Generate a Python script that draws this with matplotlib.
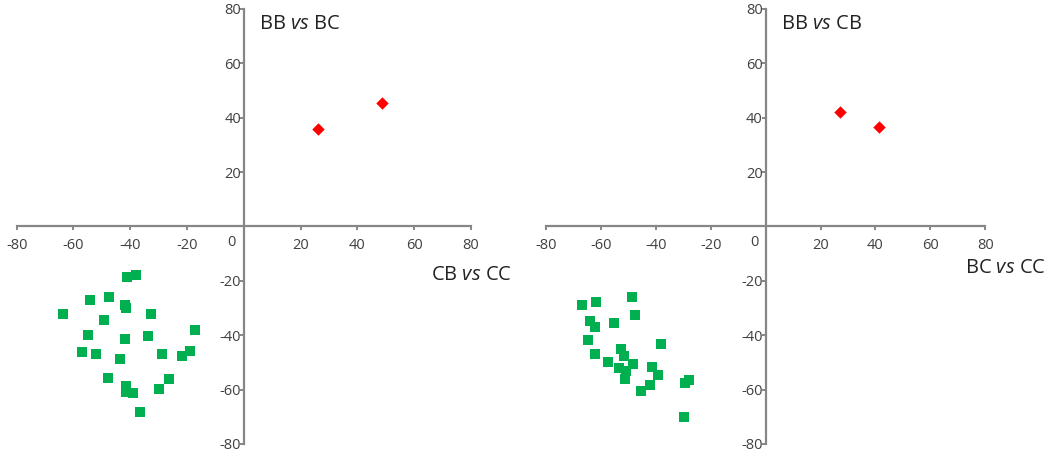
import matplotlib.pyplot as plt

plt.rcParams['font.family'] = ['Open Sans', 'DejaVu Sans']
plt.rcParams['mathtext.fontset'] = 'custom'
plt.rcParams['mathtext.rm'] = 'Open Sans'
plt.rcParams['mathtext.it'] = 'Open Sans:italic'

# left panel: CB vs CC (x) / BB vs BC (y)
red1_x = [26.3, 48.5]
red1_y = [35.8, 45.6]
green1_x = [-38.1, -41.3, -54.1, -47.5, -42.0, -41.6, -63.7, -49.3, -32.7, -17.2,
            -54.8, -42.0, -33.8, -57.0, -52.1, -43.5, -28.7, -21.8, -19.1, -47.9,
            -26.4, -41.4, -41.6, -39.1, -29.7, -36.7]
green1_y = [-17.7, -18.6, -27.1, -25.9, -28.7, -29.9, -32.1, -34.5, -32.1, -38.1,
            -39.8, -41.5, -40.4, -46.0, -46.9, -48.7, -46.9, -47.6, -45.8, -55.9,
            -56.2, -58.5, -61.0, -61.4, -59.9, -68.2]

# right panel: BC vs CC (x) / BB vs CB (y)
red2_x = [27.1, 41.3]
red2_y = [42.1, 36.5]
green2_x = [-67.0, -61.6, -48.6, -47.6, -63.8, -62.3, -55.1, -64.8, -38.2, -62.2,
            -57.4, -52.6, -51.7, -48.4, -53.3, -51.0, -51.2, -41.2, -39.3, -42.2,
            -45.3, -29.4, -28.0, -29.9]
green2_y = [-28.7, -27.7, -25.9, -32.4, -34.8, -36.8, -35.6, -41.8, -43.3, -47.0,
            -49.9, -44.9, -47.8, -50.4, -51.9, -53.3, -56.0, -51.5, -54.6, -58.2,
            -60.4, -57.6, -56.4, -70.2]

ticks = [-80, -60, -40, -20, 0, 20, 40, 60, 80]
tick_labels = ['' if t == 0 else str(t) for t in ticks]

axis_col = '#868686'
text_col = '#404040'

fig = plt.figure(figsize=(10.55, 4.59), dpi=100)
ax1 = fig.add_axes([0.0158, 0.0327, 0.4306, 0.9477])
ax2 = fig.add_axes([0.5175, 0.0327, 0.4164, 0.9477])

panels = [
    (ax1, red1_x, red1_y, green1_x, green1_y, 'BB $\\mathit{vs}$ BC', 'CB $\\mathit{vs}$ CC', (66, -17.8)),
    (ax2, red2_x, red2_y, green2_x, green2_y, 'BB $\\mathit{vs}$ CB', 'BC $\\mathit{vs}$ CC', (72.6, -15.4)),
]

for ax, rx, ry, gx, gy, ytitle, xtitle, xpos in panels:
    ax.scatter(gx, gy, marker='s', s=55, color='#00B050', zorder=3, linewidths=0)
    ax.scatter(rx, ry, marker='D', s=40, color='#FF0000', zorder=3, linewidths=0)
    ax.set_xlim(-80, 80)
    ax.set_ylim(-80, 80)
    for side in ['top', 'right']:
        ax.spines[side].set_visible(False)
    for side in ['left', 'bottom']:
        ax.spines[side].set_position('zero')
        ax.spines[side].set_color(axis_col)
        ax.spines[side].set_linewidth(1.6)
    ax.set_xticks(ticks)
    ax.set_xticklabels(tick_labels)
    ax.set_yticks(ticks)
    ax.set_yticklabels(tick_labels)
    ax.tick_params(axis='x', direction='out', length=3, width=1.4, color=axis_col,
                   labelcolor=text_col, labelsize=10.5, pad=5)
    ax.tick_params(axis='y', direction='out', length=3, width=1.4, color=axis_col,
                   labelcolor=text_col, labelsize=10.5, pad=-1)
    ax.text(-4.2, -5.8, '0', ha='center', va='center', fontsize=10.5, color=text_col)
    ax.text(5.5, 74.5, ytitle, ha='left', va='center', fontsize=14.5, color='#222222')
    ax.text(xpos[0], xpos[1], xtitle, ha='left', va='center', fontsize=14.5,
            color='#222222', clip_on=False)
    ax.patch.set_visible(False)

fig.savefig('out.png', dpi=100)
